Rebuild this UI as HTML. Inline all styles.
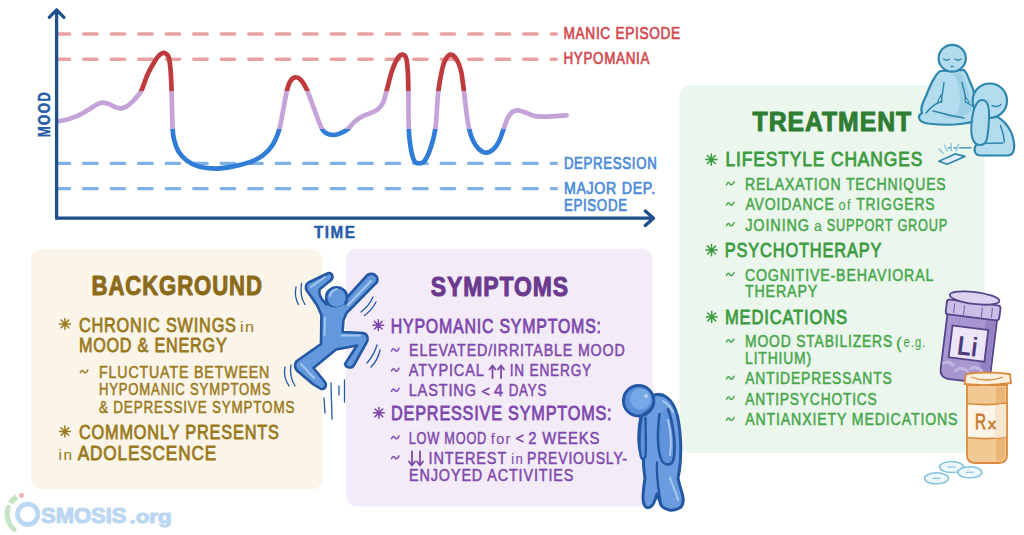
<!DOCTYPE html><html><head><meta charset="utf-8"><title>Bipolar II</title><style>html,body{margin:0;padding:0;background:#fff;width:1024px;height:535px;overflow:hidden}svg{display:block}text{font-family:"Liberation Sans",sans-serif}</style></head><body>
<svg width="1024" height="535" viewBox="0 0 1024 535">
<rect width="1024" height="535" fill="#ffffff"/>
<rect x="31" y="249" width="291.3" height="240.3" rx="10.5" fill="#fbf4e9"/>
<rect x="346" y="249" width="306.8" height="257.5" rx="10.5" fill="#f3ebf8"/>
<rect x="679.5" y="85" width="305" height="368" rx="10.5" fill="#ebf6ed"/>
<line x1="58" y1="34.0" x2="556.3" y2="34.0" stroke="#e9a2a2" stroke-width="3.4" stroke-linecap="round" stroke-dasharray="13.5 14" stroke-dashoffset="1.8"/>
<line x1="58" y1="59.2" x2="556.3" y2="59.2" stroke="#e9a2a2" stroke-width="3.4" stroke-linecap="round" stroke-dasharray="13.5 14" stroke-dashoffset="1.8"/>
<line x1="58" y1="163.4" x2="556.3" y2="163.4" stroke="#7fb0e6" stroke-width="3.4" stroke-linecap="round" stroke-dasharray="13.5 14" stroke-dashoffset="1.8"/>
<line x1="58" y1="188.6" x2="556.3" y2="188.6" stroke="#7fb0e6" stroke-width="3.4" stroke-linecap="round" stroke-dasharray="13.5 14" stroke-dashoffset="1.8"/>
<defs><linearGradient id="cg" gradientUnits="userSpaceOnUse" x1="0" y1="0" x2="0" y2="535"><stop offset="0.0000" stop-color="#bf3a3d"/><stop offset="0.1692" stop-color="#bf3a3d"/><stop offset="0.1692" stop-color="#c5a3d9"/><stop offset="0.2402" stop-color="#c5a3d9"/><stop offset="0.2402" stop-color="#2f7dd6"/><stop offset="1" stop-color="#2f7dd6"/></linearGradient></defs>
<path d="M57.6 121.5 C59.4 121.1 64.5 120.4 68.2 119.3 C71.9 118.2 75.9 116.7 79.6 114.9 C83.3 113.1 87.3 110.5 90.2 108.7 C93.1 106.9 95.1 105.3 97.2 104.3 C99.3 103.3 100.9 102.6 102.9 102.6 C105.0 102.6 107.4 103.5 109.5 104.3 C111.6 105.1 113.7 106.7 115.6 107.4 C117.5 108.1 119.0 108.5 120.9 108.3 C122.8 108.1 125.0 107.3 127.1 106.1 C129.1 104.8 131.3 102.7 133.2 100.8 C135.1 98.9 137.1 96.5 138.5 94.7 C139.9 92.9 140.0 93.7 141.6 90.2 C143.2 86.7 145.6 78.7 148.0 73.6 C150.4 68.5 153.8 62.8 155.8 59.6 C157.8 56.4 158.7 55.7 160.0 54.6 C161.3 53.5 162.5 53.0 163.6 52.9 C164.7 52.8 165.7 53.4 166.6 54.2 C167.5 55.0 168.2 55.2 168.8 57.5 C169.4 59.8 170.0 63.4 170.4 68.0 C170.8 72.6 171.0 75.0 171.4 85.0 C171.8 95.0 172.1 118.7 172.6 127.9 C173.1 137.2 173.3 136.6 174.3 140.5 C175.3 144.4 176.4 148.1 178.5 151.5 C180.6 154.9 183.5 158.2 186.9 160.7 C190.3 163.2 193.9 165.3 198.7 166.6 C203.5 167.9 209.9 168.6 215.5 168.6 C221.1 168.6 226.7 167.6 232.3 166.6 C237.9 165.6 244.0 164.2 249.1 162.4 C254.2 160.6 258.7 158.6 262.6 155.7 C266.5 152.8 269.9 149.2 272.7 144.7 C275.5 140.2 277.8 134.4 279.5 128.6 C281.2 122.8 281.9 116.3 283.2 109.9 C284.4 103.5 285.8 95.2 287.0 90.4 C288.2 85.6 289.0 83.2 290.4 81.0 C291.8 78.8 293.5 77.5 295.2 77.3 C296.9 77.1 298.8 77.6 300.8 79.8 C302.8 82.0 305.0 85.6 307.2 90.4 C309.4 95.2 311.5 102.2 313.9 108.4 C316.3 114.6 319.4 123.7 321.4 127.8 C323.4 131.9 323.9 131.9 325.9 133.1 C327.9 134.3 330.9 135.0 333.4 135.0 C335.9 135.0 338.3 134.2 340.8 133.1 C343.3 132.0 346.1 130.5 348.3 128.6 C350.6 126.7 352.1 123.9 354.3 121.9 C356.6 119.9 359.1 118.1 361.8 116.6 C364.6 115.1 368.1 114.2 370.8 112.9 C373.5 111.7 376.1 111.0 378.2 109.1 C380.3 107.2 382.1 104.7 383.5 101.7 C384.9 98.7 385.1 96.4 386.5 91.2 C387.9 86.0 390.1 76.2 392.0 70.7 C393.9 65.2 396.1 60.6 397.9 57.9 C399.6 55.2 401.1 54.5 402.5 54.6 C403.9 54.7 405.4 55.5 406.3 58.6 C407.2 61.7 407.5 67.5 407.9 73.0 C408.2 78.5 408.2 82.4 408.4 91.8 C408.5 101.2 408.4 119.8 408.8 129.2 C409.2 138.5 409.8 142.7 410.7 147.9 C411.6 153.2 412.8 158.1 414.2 160.7 C415.6 163.3 417.1 163.5 418.9 163.5 C420.6 163.5 422.8 163.3 424.7 160.7 C426.6 158.1 428.8 153.2 430.6 147.9 C432.4 142.7 434.0 138.5 435.3 129.2 C436.6 119.8 437.1 101.9 438.3 91.8 C439.5 81.7 441.1 73.9 442.3 68.4 C443.6 62.9 444.4 61.3 445.8 59.0 C447.2 56.7 448.8 54.6 450.5 54.6 C452.2 54.6 454.6 56.3 456.3 59.0 C458.1 61.7 459.7 65.2 461.0 70.7 C462.3 76.2 463.0 84.4 464.0 91.8 C465.0 99.2 465.9 108.9 466.8 115.1 C467.7 121.3 468.1 124.9 469.2 129.2 C470.2 133.5 471.5 137.5 473.1 140.8 C474.7 144.2 476.8 147.3 479.0 149.3 C481.2 151.3 483.8 152.6 486.2 152.6 C488.6 152.6 491.2 151.3 493.4 149.3 C495.6 147.3 497.6 144.3 499.3 140.8 C501.0 137.3 502.4 132.2 503.8 128.4 C505.2 124.6 506.4 120.6 507.8 117.9 C509.2 115.2 510.7 113.2 512.3 112.0 C513.9 110.8 515.6 110.4 517.6 110.4 C519.6 110.4 521.5 111.1 524.1 112.0 C526.7 112.9 530.2 114.9 533.3 115.7 C536.3 116.5 538.9 116.5 542.4 116.6 C545.9 116.7 550.2 116.4 554.2 116.2 C558.2 116.0 564.5 115.5 566.6 115.3" fill="none" stroke="url(#cg)" stroke-width="4.7" stroke-linecap="round" stroke-linejoin="round"/>
<path d="M56.6 218.2 V10 M49.3 17.3 L56.6 9.9 L63.9 17.3" fill="none" stroke="#1f4f8c" stroke-width="3.3" stroke-linecap="round" stroke-linejoin="round"/>
<path d="M56.6 218.2 H653.5 M645.3 211 L653.5 218.2 L645.3 225.5" fill="none" stroke="#1f4f8c" stroke-width="3.3" stroke-linecap="round" stroke-linejoin="round"/>
<text x="563.5" y="39.3" font-size="16.0" font-weight="normal" fill="#d34b51" stroke="#d34b51" stroke-width="0.70" stroke-linejoin="round" letter-spacing="0.80" textLength="117.4" lengthAdjust="spacingAndGlyphs">MANIC EPISODE</text>
<text x="563.5" y="64.0" font-size="16.0" font-weight="normal" fill="#d34b51" stroke="#d34b51" stroke-width="0.70" stroke-linejoin="round" letter-spacing="0.80" textLength="86.5" lengthAdjust="spacingAndGlyphs">HYPOMANIA</text>
<text x="563.9" y="168.8" font-size="16.0" font-weight="normal" fill="#4b8bd9" stroke="#4b8bd9" stroke-width="0.70" stroke-linejoin="round" letter-spacing="0.80" textLength="93.5" lengthAdjust="spacingAndGlyphs">DEPRESSION</text>
<text x="563.9" y="193.8" font-size="16.0" font-weight="normal" fill="#4b8bd9" stroke="#4b8bd9" stroke-width="0.70" stroke-linejoin="round" letter-spacing="0.80" textLength="91.9" lengthAdjust="spacingAndGlyphs">MAJOR DEP.</text>
<text x="563.9" y="210.8" font-size="16.0" font-weight="normal" fill="#4b8bd9" stroke="#4b8bd9" stroke-width="0.70" stroke-linejoin="round" letter-spacing="0.80" textLength="63.8" lengthAdjust="spacingAndGlyphs">EPISODE</text>
<text x="314.0" y="238.3" font-size="17.2" font-weight="bold" fill="#275ca6" stroke="#275ca6" stroke-width="0.50" stroke-linejoin="round" letter-spacing="1.72" textLength="42.4" lengthAdjust="spacingAndGlyphs">TIME</text>
<g transform="translate(50.3 136.5) rotate(-90)">
<text x="-0.8" y="0.0" font-size="17.2" font-weight="bold" fill="#275ca6" stroke="#275ca6" stroke-width="0.50" stroke-linejoin="round" letter-spacing="1.72" textLength="46.5" lengthAdjust="spacingAndGlyphs">MOOD</text>
</g>
<text x="91.5" y="295.0" font-size="27.0" font-weight="bold" fill="#8b6a1a" stroke="#8b6a1a" stroke-width="1.00" stroke-linejoin="round" letter-spacing="1.08" textLength="171.3" lengthAdjust="spacingAndGlyphs">BACKGROUND</text>
<path d="M59.50 323.90 L70.30 323.90 M61.08 320.08 L68.72 327.72 M64.90 318.50 L64.90 329.30 M68.72 320.08 L61.08 327.72 " stroke="#9a7a20" stroke-width="1.50" stroke-linecap="round" fill="none"/>
<text x="78.9" y="331.6" font-size="20.6" font-weight="normal" fill="#9a7a20" stroke="#9a7a20" stroke-width="0.85" stroke-linejoin="round" letter-spacing="1.03" textLength="157.9" lengthAdjust="spacingAndGlyphs">CHRONIC SWINGS</text>
<text x="239.9" y="331.6" font-size="15.5" font-weight="normal" fill="#9a7a20" stroke="#9a7a20" stroke-width="0.10" stroke-linejoin="round" letter-spacing="1.55" textLength="15.8" lengthAdjust="spacingAndGlyphs">in</text>
<text x="78.9" y="352.2" font-size="20.6" font-weight="normal" fill="#9a7a20" stroke="#9a7a20" stroke-width="0.85" stroke-linejoin="round" letter-spacing="1.03" textLength="148.6" lengthAdjust="spacingAndGlyphs">MOOD &amp; ENERGY</text>
<path d="M80.3 372.8 C81.6 369.3 83.1 370.5 83.8 371.9 S86.4 373.5 87.8 369.9" stroke="#9a7a20" stroke-width="1.50" stroke-linecap="round" fill="none"/>
<text x="99.0" y="378.3" font-size="15.8" font-weight="normal" fill="#9a7a20" stroke="#9a7a20" stroke-width="0.50" stroke-linejoin="round" letter-spacing="0.95" textLength="171.2" lengthAdjust="spacingAndGlyphs">FLUCTUATE BETWEEN</text>
<text x="99.0" y="395.2" font-size="15.8" font-weight="normal" fill="#9a7a20" stroke="#9a7a20" stroke-width="0.50" stroke-linejoin="round" letter-spacing="0.95" textLength="172.3" lengthAdjust="spacingAndGlyphs">HYPOMANIC SYMPTOMS</text>
<text x="99.0" y="412.8" font-size="15.8" font-weight="normal" fill="#9a7a20" stroke="#9a7a20" stroke-width="0.50" stroke-linejoin="round" letter-spacing="0.95" textLength="196.2" lengthAdjust="spacingAndGlyphs">&amp; DEPRESSIVE SYMPTOMS</text>
<path d="M59.50 431.50 L70.30 431.50 M61.08 427.68 L68.72 435.32 M64.90 426.10 L64.90 436.90 M68.72 427.68 L61.08 435.32 " stroke="#9a7a20" stroke-width="1.50" stroke-linecap="round" fill="none"/>
<text x="78.9" y="438.8" font-size="20.6" font-weight="normal" fill="#9a7a20" stroke="#9a7a20" stroke-width="0.85" stroke-linejoin="round" letter-spacing="1.03" textLength="200.9" lengthAdjust="spacingAndGlyphs">COMMONLY PRESENTS</text>
<text x="58.6" y="459.8" font-size="15.5" font-weight="normal" fill="#9a7a20" stroke="#9a7a20" stroke-width="0.10" stroke-linejoin="round" letter-spacing="1.55" textLength="15.0" lengthAdjust="spacingAndGlyphs">in</text>
<text x="77.8" y="459.8" font-size="20.6" font-weight="normal" fill="#9a7a20" stroke="#9a7a20" stroke-width="0.85" stroke-linejoin="round" letter-spacing="1.03" textLength="139.2" lengthAdjust="spacingAndGlyphs">ADOLESCENCE</text>
<text x="430.8" y="296.0" font-size="27.0" font-weight="bold" fill="#6a3a8e" stroke="#6a3a8e" stroke-width="1.00" stroke-linejoin="round" letter-spacing="1.08" textLength="138.3" lengthAdjust="spacingAndGlyphs">SYMPTOMS</text>
<path d="M372.90 325.20 L383.70 325.20 M374.48 321.38 L382.12 329.02 M378.30 319.80 L378.30 330.60 M382.12 321.38 L374.48 329.02 " stroke="#7e48ac" stroke-width="1.50" stroke-linecap="round" fill="none"/>
<text x="390.7" y="332.8" font-size="20.7" font-weight="normal" fill="#7e48ac" stroke="#7e48ac" stroke-width="0.85" stroke-linejoin="round" letter-spacing="1.03" textLength="211.1" lengthAdjust="spacingAndGlyphs">HYPOMANIC SYMPTOMS:</text>
<path d="M391.5 351.1 C392.8 347.6 394.3 348.8 395.0 350.2 S397.6 351.8 399.0 348.2" stroke="#7e48ac" stroke-width="1.50" stroke-linecap="round" fill="none"/>
<path d="M391.5 371.1 C392.8 367.6 394.3 368.8 395.0 370.2 S397.6 371.8 399.0 368.2" stroke="#7e48ac" stroke-width="1.50" stroke-linecap="round" fill="none"/>
<path d="M391.5 391.2 C392.8 387.7 394.3 388.9 395.0 390.3 S397.6 391.9 399.0 388.3" stroke="#7e48ac" stroke-width="1.50" stroke-linecap="round" fill="none"/>
<text x="409.1" y="356.0" font-size="16.5" font-weight="normal" fill="#7e48ac" stroke="#7e48ac" stroke-width="0.50" stroke-linejoin="round" letter-spacing="0.99" textLength="216.5" lengthAdjust="spacingAndGlyphs">ELEVATED/IRRITABLE MOOD</text>
<text x="408.7" y="376.2" font-size="16.5" font-weight="normal" fill="#7e48ac" stroke="#7e48ac" stroke-width="0.50" stroke-linejoin="round" letter-spacing="0.99" textLength="75.9" lengthAdjust="spacingAndGlyphs">ATYPICAL</text>
<path d="M492.5 378.0 V365.5 M489.5 369.5 L492.5 365.5 L495.5 369.5" stroke="#7e48ac" stroke-width="1.80" stroke-linecap="round" stroke-linejoin="round" fill="none"/>
<path d="M501.0 378.0 V365.5 M498.0 369.5 L501.0 365.5 L504.0 369.5" stroke="#7e48ac" stroke-width="1.80" stroke-linecap="round" stroke-linejoin="round" fill="none"/>
<text x="509.7" y="376.2" font-size="16.5" font-weight="normal" fill="#7e48ac" stroke="#7e48ac" stroke-width="0.50" stroke-linejoin="round" letter-spacing="0.99" textLength="82.3" lengthAdjust="spacingAndGlyphs">IN ENERGY</text>
<text x="408.7" y="396.4" font-size="16.5" font-weight="normal" fill="#7e48ac" stroke="#7e48ac" stroke-width="0.50" stroke-linejoin="round" letter-spacing="0.99" textLength="68.1" lengthAdjust="spacingAndGlyphs">LASTING</text>
<path d="M489 388.3 L482.5 391.5 L489 394.7" stroke="#7e48ac" stroke-width="1.7" fill="none" stroke-linecap="round" stroke-linejoin="round"/>
<text x="494.0" y="396.4" font-size="16.5" font-weight="normal" fill="#7e48ac" stroke="#7e48ac" stroke-width="0.50" stroke-linejoin="round" letter-spacing="0.99" textLength="10.1" lengthAdjust="spacingAndGlyphs">4</text>
<text x="508.7" y="396.4" font-size="16.5" font-weight="normal" fill="#7e48ac" stroke="#7e48ac" stroke-width="0.50" stroke-linejoin="round" letter-spacing="0.99" textLength="38.4" lengthAdjust="spacingAndGlyphs">DAYS</text>
<path d="M373.50 412.80 L384.30 412.80 M375.08 408.98 L382.72 416.62 M378.90 407.40 L378.90 418.20 M382.72 408.98 L375.08 416.62 " stroke="#7e48ac" stroke-width="1.50" stroke-linecap="round" fill="none"/>
<text x="391.1" y="419.9" font-size="20.7" font-weight="normal" fill="#7e48ac" stroke="#7e48ac" stroke-width="0.85" stroke-linejoin="round" letter-spacing="1.03" textLength="221.3" lengthAdjust="spacingAndGlyphs">DEPRESSIVE SYMPTOMS:</text>
<path d="M391.5 438.8 C392.8 435.3 394.3 436.5 395.0 437.9 S397.6 439.5 399.0 435.9" stroke="#7e48ac" stroke-width="1.50" stroke-linecap="round" fill="none"/>
<path d="M391.5 458.8 C392.8 455.3 394.3 456.5 395.0 457.9 S397.6 459.5 399.0 455.9" stroke="#7e48ac" stroke-width="1.50" stroke-linecap="round" fill="none"/>
<text x="408.7" y="443.5" font-size="16.5" font-weight="normal" fill="#7e48ac" stroke="#7e48ac" stroke-width="0.50" stroke-linejoin="round" letter-spacing="0.99" textLength="78.4" lengthAdjust="spacingAndGlyphs">LOW MOOD</text>
<text x="490.7" y="443.5" font-size="14.5" font-weight="normal" fill="#7e48ac" stroke="#7e48ac" stroke-width="0.10" stroke-linejoin="round" letter-spacing="1.45" textLength="21.2" lengthAdjust="spacingAndGlyphs">for</text>
<path d="M523 435.3 L516.5 438.5 L523 441.7" stroke="#7e48ac" stroke-width="1.7" fill="none" stroke-linecap="round" stroke-linejoin="round"/>
<text x="528.2" y="443.5" font-size="16.5" font-weight="normal" fill="#7e48ac" stroke="#7e48ac" stroke-width="0.50" stroke-linejoin="round" letter-spacing="0.99" textLength="72.1" lengthAdjust="spacingAndGlyphs">2 WEEKS</text>
<path d="M412.0 451.5 V465.5 M409.0 461.5 L412.0 465.5 L415.0 461.5" stroke="#7e48ac" stroke-width="1.80" stroke-linecap="round" stroke-linejoin="round" fill="none"/>
<path d="M420.0 451.5 V465.5 M417.0 461.5 L420.0 465.5 L423.0 461.5" stroke="#7e48ac" stroke-width="1.80" stroke-linecap="round" stroke-linejoin="round" fill="none"/>
<text x="428.6" y="464.3" font-size="16.5" font-weight="normal" fill="#7e48ac" stroke="#7e48ac" stroke-width="0.50" stroke-linejoin="round" letter-spacing="0.99" textLength="78.5" lengthAdjust="spacingAndGlyphs">INTEREST</text>
<text x="511.3" y="464.3" font-size="14.5" font-weight="normal" fill="#7e48ac" stroke="#7e48ac" stroke-width="0.10" stroke-linejoin="round" letter-spacing="1.45" textLength="12.8" lengthAdjust="spacingAndGlyphs">in</text>
<text x="527.0" y="464.3" font-size="16.5" font-weight="normal" fill="#7e48ac" stroke="#7e48ac" stroke-width="0.50" stroke-linejoin="round" letter-spacing="0.99" textLength="100.8" lengthAdjust="spacingAndGlyphs">PREVIOUSLY-</text>
<text x="409.1" y="481.2" font-size="16.5" font-weight="normal" fill="#7e48ac" stroke="#7e48ac" stroke-width="0.50" stroke-linejoin="round" letter-spacing="0.99" textLength="165.1" lengthAdjust="spacingAndGlyphs">ENJOYED ACTIVITIES</text>
<text x="752.6" y="131.0" font-size="27.0" font-weight="bold" fill="#2f7d33" stroke="#2f7d33" stroke-width="1.00" stroke-linejoin="round" letter-spacing="1.08" textLength="159.5" lengthAdjust="spacingAndGlyphs">TREATMENT</text>
<path d="M705.70 159.50 L716.90 159.50 M707.34 155.54 L715.26 163.46 M711.30 153.90 L711.30 165.10 M715.26 155.54 L707.34 163.46 " stroke="#3c9b40" stroke-width="1.50" stroke-linecap="round" fill="none"/>
<text x="725.5" y="166.3" font-size="20.4" font-weight="normal" fill="#3c9b40" stroke="#3c9b40" stroke-width="0.85" stroke-linejoin="round" letter-spacing="1.02" textLength="197.7" lengthAdjust="spacingAndGlyphs">LIFESTYLE CHANGES</text>
<path d="M726.5 184.7 C727.8 181.2 729.3 182.4 730.0 183.8 S732.6 185.4 734.0 181.8" stroke="#47a64a" stroke-width="1.50" stroke-linecap="round" fill="none"/>
<path d="M726.5 205.1 C727.8 201.6 729.3 202.8 730.0 204.2 S732.6 205.8 734.0 202.2" stroke="#47a64a" stroke-width="1.50" stroke-linecap="round" fill="none"/>
<path d="M726.5 225.7 C727.8 222.2 729.3 223.4 730.0 224.8 S732.6 226.4 734.0 222.8" stroke="#47a64a" stroke-width="1.50" stroke-linecap="round" fill="none"/>
<text x="744.9" y="189.8" font-size="16.7" font-weight="normal" fill="#47a64a" stroke="#47a64a" stroke-width="0.50" stroke-linejoin="round" letter-spacing="1.00" textLength="201.7" lengthAdjust="spacingAndGlyphs">RELAXATION TECHNIQUES</text>
<text x="745.4" y="210.2" font-size="16.7" font-weight="normal" fill="#47a64a" stroke="#47a64a" stroke-width="0.50" stroke-linejoin="round" letter-spacing="1.00" textLength="89.2" lengthAdjust="spacingAndGlyphs">AVOIDANCE</text>
<text x="838.4" y="210.2" font-size="14.0" font-weight="normal" fill="#47a64a" stroke="#47a64a" stroke-width="0.10" stroke-linejoin="round" letter-spacing="1.40" textLength="13.4" lengthAdjust="spacingAndGlyphs">of</text>
<text x="856.2" y="210.2" font-size="16.7" font-weight="normal" fill="#47a64a" stroke="#47a64a" stroke-width="0.50" stroke-linejoin="round" letter-spacing="1.00" textLength="79.2" lengthAdjust="spacingAndGlyphs">TRIGGERS</text>
<text x="745.2" y="230.8" font-size="16.7" font-weight="normal" fill="#47a64a" stroke="#47a64a" stroke-width="0.50" stroke-linejoin="round" letter-spacing="1.00" textLength="64.8" lengthAdjust="spacingAndGlyphs">JOINING</text>
<text x="813.9" y="230.8" font-size="14.0" font-weight="normal" fill="#47a64a" stroke="#47a64a" stroke-width="0.10" stroke-linejoin="round" letter-spacing="1.40" textLength="9.3" lengthAdjust="spacingAndGlyphs">a</text>
<text x="826.7" y="230.8" font-size="16.7" font-weight="normal" fill="#47a64a" stroke="#47a64a" stroke-width="0.50" stroke-linejoin="round" letter-spacing="1.00" textLength="121.3" lengthAdjust="spacingAndGlyphs">SUPPORT GROUP</text>
<path d="M705.90 250.10 L717.10 250.10 M707.54 246.14 L715.46 254.06 M711.50 244.50 L711.50 255.70 M715.46 246.14 L707.54 254.06 " stroke="#3c9b40" stroke-width="1.50" stroke-linecap="round" fill="none"/>
<text x="724.8" y="257.1" font-size="20.7" font-weight="normal" fill="#3c9b40" stroke="#3c9b40" stroke-width="0.85" stroke-linejoin="round" letter-spacing="1.03" textLength="157.4" lengthAdjust="spacingAndGlyphs">PSYCHOTHERAPY</text>
<path d="M726.5 275.5 C727.8 272.0 729.3 273.2 730.0 274.6 S732.6 276.2 734.0 272.6" stroke="#47a64a" stroke-width="1.50" stroke-linecap="round" fill="none"/>
<text x="744.9" y="280.6" font-size="16.7" font-weight="normal" fill="#47a64a" stroke="#47a64a" stroke-width="0.50" stroke-linejoin="round" letter-spacing="1.00" textLength="189.3" lengthAdjust="spacingAndGlyphs">COGNITIVE-BEHAVIORAL</text>
<text x="744.9" y="297.3" font-size="16.7" font-weight="normal" fill="#47a64a" stroke="#47a64a" stroke-width="0.50" stroke-linejoin="round" letter-spacing="1.00" textLength="73.3" lengthAdjust="spacingAndGlyphs">THERAPY</text>
<path d="M706.10 316.90 L717.30 316.90 M707.74 312.94 L715.66 320.86 M711.70 311.30 L711.70 322.50 M715.66 312.94 L707.74 320.86 " stroke="#3c9b40" stroke-width="1.50" stroke-linecap="round" fill="none"/>
<text x="725.0" y="323.8" font-size="20.7" font-weight="normal" fill="#3c9b40" stroke="#3c9b40" stroke-width="0.85" stroke-linejoin="round" letter-spacing="1.03" textLength="122.8" lengthAdjust="spacingAndGlyphs">MEDICATIONS</text>
<path d="M726.5 342.0 C727.8 338.5 729.3 339.7 730.0 341.1 S732.6 342.7 734.0 339.1" stroke="#47a64a" stroke-width="1.50" stroke-linecap="round" fill="none"/>
<path d="M726.5 379.1 C727.8 375.6 729.3 376.8 730.0 378.2 S732.6 379.8 734.0 376.2" stroke="#47a64a" stroke-width="1.50" stroke-linecap="round" fill="none"/>
<path d="M726.5 399.4 C727.8 395.9 729.3 397.1 730.0 398.5 S732.6 400.1 734.0 396.5" stroke="#47a64a" stroke-width="1.50" stroke-linecap="round" fill="none"/>
<path d="M726.5 420.3 C727.8 416.8 729.3 418.0 730.0 419.4 S732.6 421.0 734.0 417.4" stroke="#47a64a" stroke-width="1.50" stroke-linecap="round" fill="none"/>
<text x="745.1" y="347.1" font-size="16.7" font-weight="normal" fill="#47a64a" stroke="#47a64a" stroke-width="0.50" stroke-linejoin="round" letter-spacing="1.00" textLength="147.9" lengthAdjust="spacingAndGlyphs">MOOD STABILIZERS</text>
<text x="896" y="348.5" font-size="17" fill="#47a64a" stroke="#47a64a" stroke-width="0.3">(</text>
<text x="903.4" y="347.1" font-size="14.0" font-weight="normal" fill="#47a64a" stroke="#47a64a" stroke-width="0.10" stroke-linejoin="round" letter-spacing="1.40" textLength="23.1" lengthAdjust="spacingAndGlyphs">e.g.</text>
<text x="745.2" y="384.2" font-size="16.7" font-weight="normal" fill="#47a64a" stroke="#47a64a" stroke-width="0.50" stroke-linejoin="round" letter-spacing="1.00" textLength="147.4" lengthAdjust="spacingAndGlyphs">ANTIDEPRESSANTS</text>
<text x="745.2" y="404.5" font-size="16.7" font-weight="normal" fill="#47a64a" stroke="#47a64a" stroke-width="0.50" stroke-linejoin="round" letter-spacing="1.00" textLength="132.4" lengthAdjust="spacingAndGlyphs">ANTIPSYCHOTICS</text>
<text x="745.2" y="425.4" font-size="16.7" font-weight="normal" fill="#47a64a" stroke="#47a64a" stroke-width="0.50" stroke-linejoin="round" letter-spacing="1.00" textLength="213.2" lengthAdjust="spacingAndGlyphs">ANTIANXIETY MEDICATIONS</text>
<text x="745.1" y="364.1" font-size="16.7" font-weight="normal" fill="#47a64a" stroke="#47a64a" stroke-width="0.50" stroke-linejoin="round" letter-spacing="1.00" textLength="66.8" lengthAdjust="spacingAndGlyphs">LITHIUM)</text>
<path d="M328.5 273 C332.5 272.5 334 278 330.5 280.5 L320 289 C318.5 292 320 296.5 322.5 300 L329 307 L341.5 303.5 L367.5 275 C373 272 379 276 377 282 L346.5 313 L343.5 320 L342.6 332 L363.2 333 C367.5 334 369 339 366.5 342.5 L354 365 C352 368.5 346 368.5 345 364 L357 345.5 L336 349.5 L313.5 368 L324.5 381.5 C327 384.5 326 389.5 321 389 L313.5 384.5 L297.5 371 C294 368 294.5 362.5 297.5 360.5 L321 344 L321.4 315 L317 305 L306.8 290.5 C305 287.5 306 284 308.5 282.5 Z" fill="#6398dc" stroke="#2458a3" stroke-width="2.6" stroke-linejoin="round"/>
<circle cx="336.6" cy="297.7" r="10.5" fill="#6398dc" stroke="#2458a3" stroke-width="2.6"/>
<path d="M326.5 306 C331 310 341 310 345 305" fill="none" stroke="#6398dc" stroke-width="3"/>
<path d="M311 287 L325 277 M348 305 L371 281 M330 296 Q331 290 337 289 M301 364 L314 378 M342 335.5 L360 335.5 M325 318 L324.5 335" fill="none" stroke="#a3c6f0" stroke-width="2" stroke-linecap="round"/>
<path d="M296 287 Q294 297 298.5 304.5 M301.5 283.5 Q299.5 296 305 304.5 M361 312 Q369 306 373 297 M364.5 315.5 Q372 310 376 302 M285 367 Q283 377 289 386 M291 365 Q289 376 295 386 M367 363 Q374 355 377 345 M371 367 Q378 360 380 350 M324 398 L325 413 M331 383 L332 419 M339 386 L339 395 M344.5 380 L344.5 402" fill="none" stroke="#2458a3" stroke-width="1.3" stroke-linecap="round"/>
<path d="M652 396 C662 391 673 398 677.5 416 C682 438 681.5 462 678 478 C680 490 687 500 680.5 507.5 C673 512 665 510.5 661 505 L657 494 C655 500 653 508.5 647 507.5 C641 505.5 643 492 645 478 C644 470 643 465 643.5 459 C638 452 637.5 432 641 416 Z" fill="#6a9cdf" stroke="#2458a3" stroke-width="3" stroke-linejoin="round"/>
<path d="M659.5 414 C657.5 430 657 449 661.5 460 C664.5 466 671.5 466 673.5 459.5 C676 447 674 426 668 409" fill="#5f93da" stroke="#2458a3" stroke-width="2.6" stroke-linecap="round" stroke-linejoin="round"/>
<path d="M668 420 C671 432 671.5 445 670 455" fill="none" stroke="#a9c8f0" stroke-width="2" stroke-linecap="round"/>
<path d="M645.5 418 C645.5 432 646.5 448 645.5 456 C644.5 460 641.5 460.5 640.5 455 C639 446 639.5 430 641.5 417" fill="#5f93da" stroke="#2458a3" stroke-width="2.4" stroke-linecap="round" stroke-linejoin="round"/>
<path d="M657 462.5 C656 478 659 492 661 505" fill="none" stroke="#2458a3" stroke-width="2.4" stroke-linecap="round"/>
<path d="M663 401 C668 404 671 408 673 412 M670 478 C673 486 676 493 678 500" fill="none" stroke="#a9c8f0" stroke-width="2" stroke-linecap="round"/>
<circle cx="638.6" cy="400.7" r="15.2" fill="#5a90d9" stroke="#2458a3" stroke-width="3"/>
<circle cx="640.5" cy="399" r="10.5" fill="#78a8e6"/>
<path d="M653 405 Q650 411 643 414" fill="none" stroke="#2458a3" stroke-width="2.2" stroke-linecap="round"/>
<circle cx="646" cy="396" r="2" fill="#b4d0f4"/>
<path d="M940 71 C934 76 930 86 926 96 C922 104 920 109 922 113 C917 116 918 122 928 123.5 C945 125.5 963 125 975 121 L976 108 C976 100 974 90 970 82 C968 76 966 72 964 70 Z" fill="#b3ddee" stroke="#2f86ad" stroke-width="2.2" stroke-linejoin="round"/>
<path d="M952 74 C960 80 962 100 958 112 C955 116 948 117 940 116 C952 120 966 118 972 110 C970 95 966 80 960 72 Z" fill="#9dd0e4"/>
<path d="M937.5 102 L941 95 L942 102 Z M965 97 L969 102 L965.5 102.5 Z" fill="#ffffff" stroke="#2f86ad" stroke-width="1.2" stroke-linejoin="round"/>
<path d="M944 82.5 C943 90 942 96 941 102 M962 82.5 C964 90 965 95 966 99 M933 111 C945 114 955 117 964 118 M926 113 C930 108 936 103 941 102 M966 102 C969 104 972 106 975 107" fill="none" stroke="#2f86ad" stroke-width="1.5" stroke-linecap="round"/>
<ellipse cx="952.2" cy="58.2" rx="13.6" ry="13.4" fill="#b3ddee" stroke="#2f86ad" stroke-width="2.2"/>
<path d="M943.5 59 Q946.5 61.5 949.5 59 M955 59 Q958 61.5 961 59 M951 66.5 L953 66.5" fill="none" stroke="#2f86ad" stroke-width="1.3" stroke-linecap="round"/>
<path d="M982 112 C996 113 1008 122 1012.5 136 C1016 148 1014 155 1008 155.5 L980 155.5 C973 155.5 973 145 979 143.5 Z" fill="#b3ddee" stroke="#2f86ad" stroke-width="2.2" stroke-linejoin="round"/>
<path d="M1000.5 125.5 C1003 132 1004 137 1004.5 142 M980 143.5 L1003 143" fill="none" stroke="#2f86ad" stroke-width="1.5" stroke-linecap="round"/>
<ellipse cx="989.8" cy="100.7" rx="17.2" ry="17.2" fill="#b3ddee" stroke="#2f86ad" stroke-width="2.2"/>
<path d="M983 100 C990 101 989.5 114 988.5 127 C987.5 138 987 145 980 145 C972.5 145 970.5 135 971.5 124 C972.5 111 976 99 983 100 Z" fill="#b3ddee" stroke="#2f86ad" stroke-width="2" stroke-linejoin="round"/>
<path d="M992 105.5 Q997 108 1001 104.5" fill="none" stroke="#2f86ad" stroke-width="1.4" stroke-linecap="round"/>
<path d="M938.8 161.3 L955 153.9 L965 156.4 L947.2 164.3 Z" fill="#e3eefa" stroke="#2f86ad" stroke-width="1.6" stroke-linejoin="round"/>
<path d="M939.2 149 L943 153.3 M944.7 145.5 L947.3 151 M951 143.5 L951.3 150.7 M958.5 144.5 L956.2 150.4" fill="none" stroke="#8fcbe0" stroke-width="1.6" stroke-linecap="round"/>
<path d="M948.5 147.8 L950 147.8 M954 147.8 L956 147.8 M959.5 147.8 L971 147.8" fill="none" stroke="#2f86ad" stroke-width="1.3" stroke-linecap="round"/>
<g transform="rotate(7 968 335)">
<path d="M945 316 L945 372 Q945 380 953 381 L987 381 Q995 380 995 372 L995 316 Z" fill="#a796cf" stroke="#54448a" stroke-width="1.8"/>
<path d="M984 318 L984 378 L993.5 378 L993.5 318 Z" fill="#9381c2"/>
<path d="M947 366 Q952 362 957 367 M960 372 Q965 366 972 371 M975 368 Q980 364 986 369" fill="none" stroke="#c2b6e2" stroke-width="3" stroke-linecap="round"/>
<rect x="943" y="302" width="54" height="15" rx="3" fill="#c9bee6" stroke="#54448a" stroke-width="1.8"/>
<ellipse cx="970" cy="297.5" rx="25" ry="6" fill="#dcd3f0" stroke="#54448a" stroke-width="1.8"/>
<path d="M951 305 L951 315 M961 306 L961 316 M979 306 L979 316 M989 305 L989 315" stroke="#7d6cb0" stroke-width="1.1"/>
<rect x="951.5" y="327.5" width="36" height="32" fill="#ece5f5" stroke="#54448a" stroke-width="1.8"/>
<text x="959" y="355.5" font-size="27" font-weight="bold" fill="#4a3b7c" textLength="20" lengthAdjust="spacingAndGlyphs">Li</text>
</g>
<path d="M967 385 L967 455 Q967 463 975 463 L999 463 Q1007 463 1007 455 L1007 385 Z" fill="#f2c893" stroke="#d98a3d" stroke-width="1.8"/>
<path d="M996 387 L996 461 Q1005 461 1005 453 L1005 387 Z" fill="#eab577"/>
<path d="M967 403.5 Q987 406 1007 403 L1007 437 Q987 440 967 437.5 Z" fill="#fdf5e8" stroke="#d98a3d" stroke-width="1.6"/>
<path d="M995 405 L1006 404 L1006 437 L995 438 Z" fill="#f7e6cd"/>
<path d="M966 374 Q987 371 1010 374 L1011 383 Q988 386.5 964.5 384 Z" fill="#fcf1df" stroke="#d98a3d" stroke-width="1.8" stroke-linejoin="round"/>
<path d="M971 377 Q987 383 1003 377" fill="none" stroke="#d98a3d" stroke-width="1.3"/>
<text x="975" y="429" font-size="22" font-weight="normal" fill="#c97c36" stroke="#c97c36" stroke-width="0.9" textLength="11" lengthAdjust="spacingAndGlyphs">R</text><text x="988" y="429" font-size="14" fill="#c97c36" stroke="#c97c36" stroke-width="0.7" textLength="8" lengthAdjust="spacingAndGlyphs">x</text>
<ellipse cx="951.6" cy="467.0" rx="12" ry="5.5" fill="#eef7fc" stroke="#84c3df" stroke-width="1.6"/>
<path d="M947.6 467.0 L955.6 467.0" stroke="#84c3df" stroke-width="1.2"/>
<ellipse cx="969.8" cy="472.3" rx="12" ry="5.5" fill="#eef7fc" stroke="#84c3df" stroke-width="1.6"/>
<path d="M965.8 472.3 L973.8 472.3" stroke="#84c3df" stroke-width="1.2"/>
<ellipse cx="936.5" cy="478.3" rx="12" ry="5.5" fill="#eef7fc" stroke="#84c3df" stroke-width="1.6"/>
<path d="M932.5 478.3 L940.5 478.3" stroke="#84c3df" stroke-width="1.2"/>
<path d="M14.0 529.5 A20.5 20.5 0 0 1 8.4 507.3" fill="none" stroke="#c6e3c6" stroke-width="5" stroke-linecap="round"/>
<path d="M10.5 503.1 A20.5 20.5 0 0 1 16.8 496.9" fill="none" stroke="#c6e3c6" stroke-width="5.5" stroke-linecap="butt"/>
<circle cx="27.7" cy="514.3" r="10.2" fill="none" stroke="#bcd7f2" stroke-width="4.8"/>
<circle cx="21.5" cy="495.3" r="2.6" fill="#f0b9b9"/>
<text x="41" y="522.5" font-size="22" font-weight="bold" fill="#bcd7f2" stroke="#bcd7f2" stroke-width="1.2" stroke-linejoin="round" textLength="85.5" lengthAdjust="spacingAndGlyphs">SMOSIS</text>
<text x="129.5" y="522.5" font-size="19" font-weight="bold" fill="#bcd7f2" stroke="#bcd7f2" stroke-width="1.1" stroke-linejoin="round" textLength="42" lengthAdjust="spacingAndGlyphs">.org</text>
</svg></body></html>
